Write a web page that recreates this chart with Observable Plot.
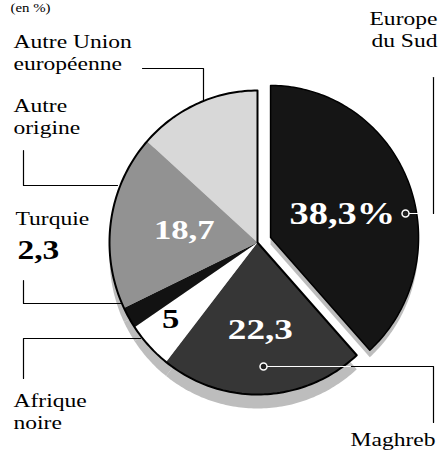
<!DOCTYPE html>
<html><head><meta charset="utf-8">
<script src="https://cdn.jsdelivr.net/npm/d3@7"></script>
<script src="https://cdn.jsdelivr.net/npm/@observablehq/plot@0.6"></script>
<style>body{margin:0;background:#fff} svg{display:block}</style>
</head><body><div id="chart"></div>
<script>
// ---- data ----
const categories = ["Europe du Sud","Maghreb","Afrique noire","Turquie","Autre origine","Autre Union européenne"];
const values = [38.3, 22.3, 5, 2.3, 18.7, 13.4];
const valueLabels = ["38,3%","22,3","5","2,3","18,7",""];
const categoryLabels = ["Europe\ndu Sud","Maghreb","Afrique\nnoire","Turquie","Autre\norigine","Autre Union\neuropéenne"];
const unitNote = "(en %)";

// ---- layout / style ----
const W = 439, H = 453, cx = 257, cy = 242, rx = 148, ry = 152;
const explode = [14, 0, 0, 0, 0, 0];
const fills = ["#151515", "#363636", "#ffffff", "#121212", "#929292", "#d8d8d8"];
const shadowDy = [7, 14, 14, 14, 14, 14];
const valueR = [0.52, 0.57, 0.8, null, 0.5, null];
const valueDy = [5, 0, -6, 0, -2, 0];
const valueColor = ["#fff", "#fff", "#000", "#000", "#fff", "#000"];
const valueSize = [31, 30, 28, 27, 28, 20];
const SX = 1.24; // horizontal stretch of the printed type
const labelSize = 19, labelLH = 1.12;

const arcs = d3.pie().sort(null).value(d => d)(values);
const pt = (a, r, off) => ({x: cx + off[0] + r * rx * Math.sin(a), y: cy + off[1] - r * ry * Math.cos(a)});
const slices = arcs.map((a, i) => {
  const mid = (a.startAngle + a.endAngle) / 2;
  const off = [explode[i] * Math.sin(mid), -explode[i] * Math.cos(mid)];
  const n = Math.max(2, Math.ceil((a.endAngle - a.startAngle) / (Math.PI / 180)));
  const arc = d3.range(n + 1).map(k => pt(a.startAngle + (a.endAngle - a.startAngle) * k / n, 1, off));
  const c = pt(0, 0, off);
  return {i, mid, off, arc, poly: [c, ...arc, c]};
});

// main (non-exploded) outline
const mainStart = arcs[1].startAngle, mainEnd = arcs[arcs.length - 1].endAngle;
const mainArc = d3.range(0, 181).map(k => pt(mainStart + (mainEnd - mainStart) * k / 180, 1, [0, 0]));
const mainOutline = [pt(0, 0, [0, 0]), ...mainArc, pt(0, 0, [0, 0])];

// value labels inside slices
const inside = slices.filter(s => valueR[s.i] != null).map(s => {
  const p = pt(s.mid, valueR[s.i], s.off);
  return {x: p.x, y: p.y + valueDy[s.i], text: valueLabels[s.i], fill: valueColor[s.i], size: valueSize[s.i]};
});

// category labels (layout positions)
const catPos = [
  {x: 437, y: 46, anchor: "end"},
  {x: 435, y: 445, anchor: "end"},
  {x: 13, y: 428, anchor: "start"},
  {x: 15, y: 224, anchor: "start"},
  {x: 13, y: 133, anchor: "start"},
  {x: 13, y: 69, anchor: "start"}
];
const catData = categoryLabels.map((t, i) => ({text: t, ...catPos[i]}));
const turquieValue = [{x: 17, y: 258, text: valueLabels[3]}];

// leader lines (label -> slice)
const leaders = [
  {k: 0, pts: [[433, 213], [433, 77]]},
  {k: 1, pts: [[263, 366], [433, 366], [433, 422]]},
  {k: 2, pts: [[23, 378], [23, 338], [140, 338]]},
  {k: 3, pts: [[23, 280], [23, 303], [120, 303]]},
  {k: 4, pts: [[23, 150], [23, 185], [117, 185]]},
  {k: 5, pts: [[142, 68], [203, 68], [203, 100]]}
].flatMap(l => l.pts.map(([x, y]) => ({k: l.k, x, y})));
const whiteLeaders = [
  {k: 0, x: 405, y: 213}, {k: 0, x: 418, y: 213},
  {k: 1, x: 263, y: 366}, {k: 1, x: 350, y: 366}
];
const dots = [{x: 405, y: 213}, {x: 263, y: 366}];

const font = "Liberation Serif, Times New Roman, serif";
const marks = [];
// shadow / depth edge
slices.forEach(s => marks.push(Plot.line(s.poly.map(p => ({x: p.x, y: p.y + shadowDy[s.i]})), {x: "x", y: "y", fill: "#bdbdbd", stroke: "none"})));
// slices
slices.forEach(s => marks.push(Plot.line(s.poly, {x: "x", y: "y", fill: fills[s.i], stroke: "none"})));
marks.push(Plot.line(mainOutline, {x: "x", y: "y", stroke: "#000", strokeWidth: 2}));
marks.push(Plot.line(slices[0].poly, {x: "x", y: "y", stroke: "#000", strokeWidth: 1.5}));
// leaders
marks.push(Plot.line(leaders, {x: "x", y: "y", z: "k", stroke: "#000", strokeWidth: 1.2}));
marks.push(Plot.line(whiteLeaders, {x: "x", y: "y", z: "k", stroke: "#fff", strokeWidth: 1.2}));
marks.push(Plot.dot(dots, {x: "x", y: "y", r: 3.5, fill: "#222", stroke: "#fff", strokeWidth: 1.5}));
// texts
marks.push(Plot.text(inside, {x: "x", y: "y", text: "text", fill: d => d.fill, fontSize: d => d.size, fontWeight: "bold", fontFamily: font, lineAnchor: "middle"}));
marks.push(Plot.text(catData.filter(d => d.anchor === "end"), {x: "x", y: "y", text: "text", textAnchor: "end", lineAnchor: "bottom", fontSize: labelSize, lineHeight: labelLH, fontFamily: font, fill: "#000"}));
marks.push(Plot.text(catData.filter(d => d.anchor === "start"), {x: "x", y: "y", text: "text", textAnchor: "start", lineAnchor: "bottom", fontSize: labelSize, lineHeight: labelLH, fontFamily: font, fill: "#000"}));
marks.push(Plot.text(turquieValue, {x: "x", y: "y", text: "text", textAnchor: "start", lineAnchor: "bottom", fontSize: 27, fontWeight: "bold", fontFamily: font, fill: "#000"}));
marks.push(Plot.text([{x: 10, y: 11, text: unitNote}], {x: "x", y: "y", text: "text", textAnchor: "start", lineAnchor: "bottom", fontSize: 12, fontFamily: font, fill: "#000"}));

const chart = Plot.plot({
  width: W, height: H, margin: 0,
  x: {domain: [0, W], range: [0, W], axis: null},
  y: {domain: [0, H], range: [0, H], axis: null},
  style: {background: "#fff"},
  marks
});
chart.querySelectorAll("text").forEach(t => {
  const tr = t.getAttribute("transform") || "";
  t.setAttribute("transform", tr + ` scale(${SX},1)`);
});
document.getElementById("chart").appendChild(chart);
</script>
</body></html>
